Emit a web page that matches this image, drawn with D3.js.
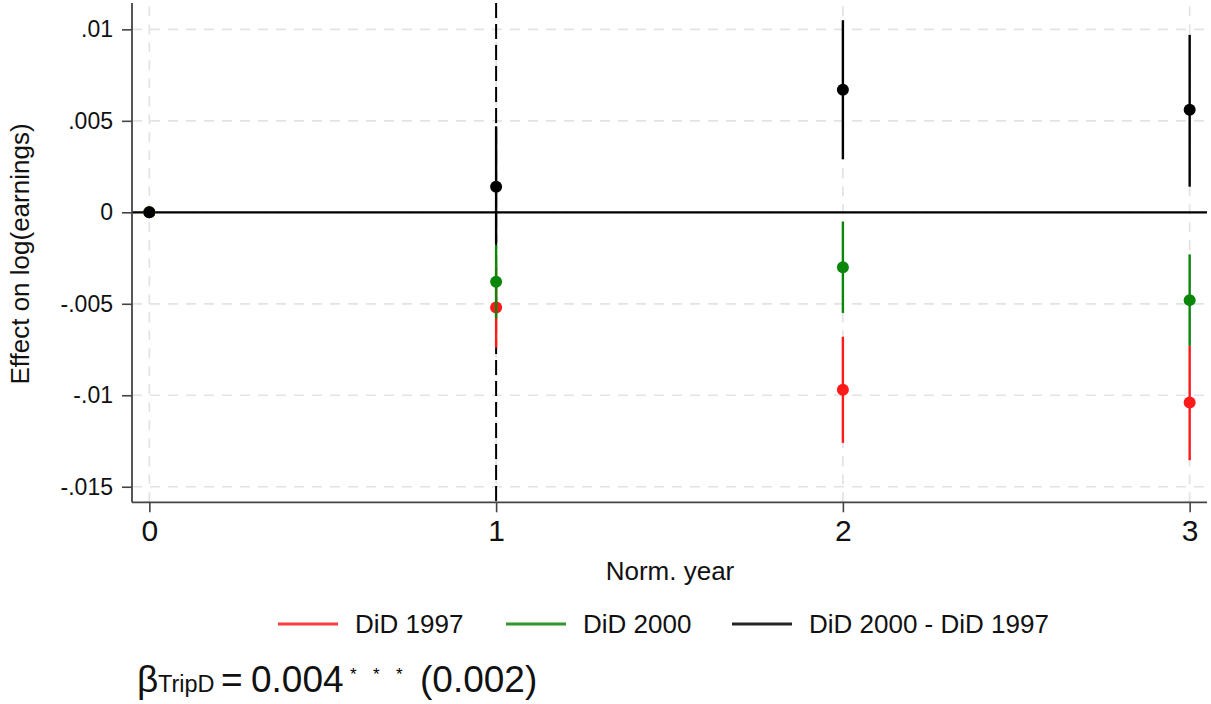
<!DOCTYPE html>
<html><head><meta charset="utf-8">
<script src="https://cdn.jsdelivr.net/npm/d3@7"></script>
<style>
html,body{margin:0;padding:0;background:#fff;}
text{font-family:"Liberation Sans",Arial,Helvetica,sans-serif;fill:#111;}
</style></head>
<body>
<svg id="chart" width="1211" height="704"></svg>
<script>
// ---- data ----
const years = [0, 1, 2, 3];
const xTicks = [0, 1, 2, 3];
const yTicks = [0.01, 0.005, 0, -0.005, -0.01, -0.015];
const yTickLabels = [".01", ".005", "0", "-.005", "-.01", "-.015"];

const did1997    = [0, -0.0052, -0.0097, -0.0104];
const did1997Lo  = [0, -0.0074, -0.0126, -0.01355];
const did1997Hi  = [0, -0.0030, -0.0068, -0.0073];

const did2000    = [0, -0.0038, -0.0030, -0.0048];
const did2000Lo  = [0, -0.0058, -0.0055, -0.0073];
const did2000Hi  = [0, -0.0018, -0.0005, -0.0023];

const diff       = [0, 0.0014, 0.0067, 0.0056];
const diffLo     = [0, -0.0017, 0.0029, 0.0014];
const diffHi     = [0, 0.0047, 0.0105, 0.0097];

const seriesNames = ["DiD 1997", "DiD 2000", "DiD 2000 - DiD 1997"];
const seriesColors = ["#ff1a1a", "#0a870a", "#000000"];
const eventLine = 1;

// ---- layout ----
const svg = d3.select("#chart");
const x = d3.scaleLinear().domain([-0.05, 3.05]).range([132, 1207]);
const y = d3.scaleLinear().domain([-0.01585, 0.01144]).range([502.3, 3]);

// gridlines
const grid = svg.append("g");
grid.selectAll("line.gy").data(yTicks).enter().append("line")
  .attr("x1", x.range()[0]).attr("x2", x.range()[1])
  .attr("y1", d => y(d)).attr("y2", d => y(d))
  .attr("stroke", "#e3e3e3").attr("stroke-width", 1.7).attr("stroke-dasharray", "10,8");
grid.selectAll("line.gx").data(xTicks).enter().append("line")
  .attr("y1", y.range()[0]).attr("y2", y.range()[1])
  .attr("x1", d => x(d)).attr("x2", d => x(d))
  .attr("stroke", "#e3e3e3").attr("stroke-width", 1.7).attr("stroke-dasharray", "10,8");

// reference lines
svg.append("line").attr("x1", x.range()[0]).attr("x2", x.range()[1])
  .attr("y1", y(0)).attr("y2", y(0)).attr("stroke", "#000").attr("stroke-width", 2.2);
svg.append("line").attr("x1", x(eventLine)).attr("x2", x(eventLine))
  .attr("y1", y.range()[1]).attr("y2", y.range()[0])
  .attr("stroke", "#000").attr("stroke-width", 2).attr("stroke-dasharray", "15,6");

// axes
const yAxis = d3.axisLeft(y).tickValues(yTicks).tickFormat((d, i) => yTickLabels[i]).tickSize(10).tickPadding(9);
const gy = svg.append("g").attr("transform", `translate(${x.range()[0]},0)`).call(yAxis);
gy.select(".domain").attr("stroke", "#444").attr("stroke-width", 1.8).attr("d", `M0,${y.range()[1]}V${y.range()[0]}`);
gy.selectAll(".tick line").attr("stroke", "#444").attr("stroke-width", 1.6);
gy.selectAll(".tick text").attr("font-size", 23).attr("fill", "#111").attr("font-family", "Liberation Sans, Arial, sans-serif");

const xAxis = d3.axisBottom(x).tickValues(xTicks).tickFormat(d3.format("d")).tickSize(10).tickPadding(7);
const gx = svg.append("g").attr("transform", `translate(0,${y.range()[0]})`).call(xAxis);
gx.select(".domain").attr("stroke", "#444").attr("stroke-width", 1.8).attr("d", `M${x.range()[0]},0H${x.range()[1]}`);
gx.selectAll(".tick line").attr("stroke", "#444").attr("stroke-width", 1.6);
gx.selectAll(".tick text").attr("font-size", 30).attr("fill", "#111").attr("font-family", "Liberation Sans, Arial, sans-serif");

// axis titles
svg.append("text").attr("transform", "translate(29,254) rotate(-90)")
  .attr("text-anchor", "middle").attr("font-size", 26).text("Effect on log(earnings)");
svg.append("text").attr("x", 670).attr("y", 580).attr("text-anchor", "middle")
  .attr("font-size", 26).text("Norm. year");

// series
const series = [
  {est: did1997, lo: did1997Lo, hi: did1997Hi},
  {est: did2000, lo: did2000Lo, hi: did2000Hi},
  {est: diff, lo: diffLo, hi: diffHi}
];
series.forEach((s, k) => {
  const g = svg.append("g");
  const rows = years.map((yr, i) => ({yr, est: s.est[i], lo: s.lo[i], hi: s.hi[i]}));
  g.selectAll("line").data(rows).enter().append("line")
    .attr("x1", d => x(d.yr)).attr("x2", d => x(d.yr))
    .attr("y1", d => y(d.lo)).attr("y2", d => y(d.hi))
    .attr("stroke", seriesColors[k]).attr("stroke-width", 2.4);
  g.selectAll("circle").data(rows).enter().append("circle")
    .attr("cx", d => x(d.yr)).attr("cy", d => y(d.est)).attr("r", 6)
    .attr("fill", seriesColors[k]);
});

// legend
const legendKeyX = [278, 506, 732];
const legend = svg.append("g");
seriesNames.forEach((name, k) => {
  legend.append("line").attr("x1", legendKeyX[k]).attr("x2", legendKeyX[k] + 60)
    .attr("y1", 624).attr("y2", 624).attr("stroke", seriesColors[k]).attr("stroke-width", 3).attr("opacity", 0.85);
  legend.append("text").attr("x", legendKeyX[k] + 77).attr("y", 633)
    .attr("font-size", 26).text(name);
});

// note
const note = svg.append("text").attr("y", 692).attr("font-size", 37);
note.append("tspan").attr("x", 137).text("β");
note.append("tspan").attr("x", 158).attr("font-size", 23.5).text("TripD");
note.append("tspan").attr("x", 221).text("=");
note.append("tspan").attr("x", 251).text("0.004");
["*", "*", "*"].forEach((s, i) => {
  note.append("tspan").attr("x", 350 + i * 23).attr("y", 680).attr("font-size", 17).attr("fill", "#000").text(s);
});
note.append("tspan").attr("x", 420).attr("y", 692).text("(0.002)");
</script>
</body></html>
